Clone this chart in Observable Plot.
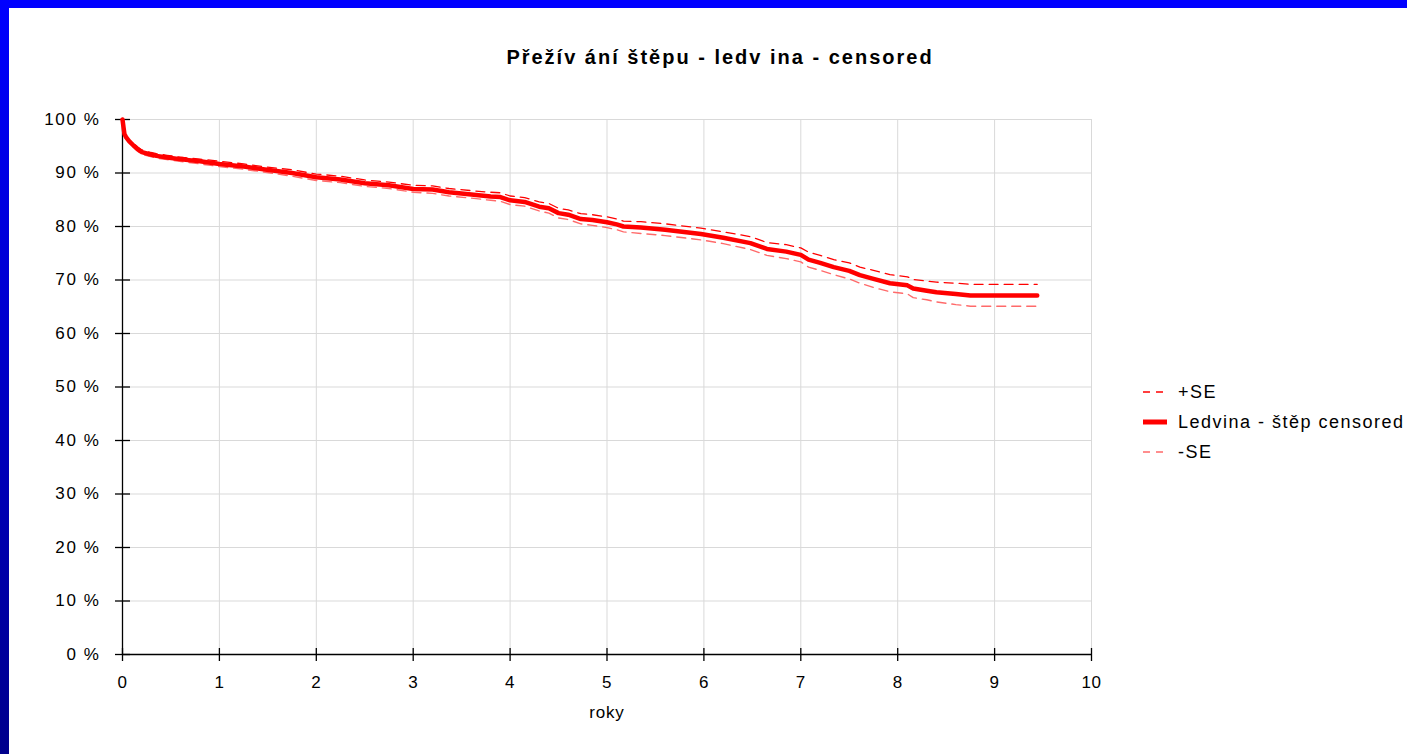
<!DOCTYPE html>
<html>
<head>
<meta charset="utf-8">
<script src="https://cdn.jsdelivr.net/npm/d3@7"></script>
<script src="https://cdn.jsdelivr.net/npm/@observablehq/plot@0.6"></script>
<style>
  html, body { margin: 0; padding: 0; width: 1407px; height: 754px; overflow: hidden; background: #fff; font-family: "Liberation Sans", Arial, sans-serif; }
  #topbar { position: absolute; left: 0; top: 0; width: 1407px; height: 8px; background: #0000ff; }
  #leftbar { position: absolute; left: 0; top: 0; width: 9px; height: 754px; background: linear-gradient(#0000ff, #00008c); }
  #chart { position: absolute; left: 9px; top: 8px; }
  #title { position: absolute; left: 0; width: 1440px; top: 46px; text-align: center; font-weight: bold; font-size: 20px; letter-spacing: 2px; color: #000; }
  #xlabel { position: absolute; left: 560px; width: 94px; top: 703px; text-align: center; font-size: 17px; letter-spacing: 0.8px; color: #000; }
  .leg { position: absolute; left: 1143px; height: 20px; }
  .leg svg { position: absolute; left: 0; top: 0; }
  .leg span { position: absolute; left: 35px; top: 0; white-space: nowrap; font-size: 18px; letter-spacing: 1.5px; line-height: 20px; color: #000; }
  #chart g[aria-label="y-axis tick label"] text { letter-spacing: 1.6px; }
  #chart g[aria-label="x-axis tick label"] text { letter-spacing: 0.5px; }
</style>
</head>
<body>
<div id="topbar"></div>
<div id="leftbar"></div>
<div id="title">Přežív ání štěpu - ledv ina - censored</div>
<div id="chart"></div>
<div id="xlabel">roky</div>
<div id="legend"></div>
<script>
// Data (years, survival %)
const years = [0, 0.01, 0.02, 0.04, 0.07, 0.11, 0.16, 0.2, 0.28, 0.35, 0.46, 0.63, 0.8, 1.0, 1.25, 1.49, 1.75, 2.0, 2.25, 2.5, 2.75, 3.0, 3.2, 3.37, 3.6, 3.8, 3.9, 4.0, 4.15, 4.3, 4.4, 4.5, 4.6, 4.73, 4.85, 5.0, 5.1, 5.17, 5.35, 5.6, 5.97, 6.2, 6.48, 6.65, 6.85, 7.0, 7.08, 7.2, 7.34, 7.5, 7.61, 7.75, 7.92, 8.1, 8.16, 8.3, 8.4, 8.6, 8.75, 9.44];
const survival = [100, 98.6, 97.3, 96.6, 95.9, 95.2, 94.4, 93.9, 93.5, 93.2, 92.9, 92.5, 92.2, 91.7, 91.2, 90.6, 90.0, 89.2, 88.8, 88.1, 87.7, 87.0, 86.9, 86.4, 86.0, 85.6, 85.5, 84.9, 84.6, 83.7, 83.4, 82.5, 82.2, 81.4, 81.2, 80.8, 80.4, 80.0, 79.8, 79.4, 78.6, 77.9, 76.9, 75.8, 75.3, 74.7, 73.8, 73.2, 72.4, 71.7, 70.9, 70.2, 69.4, 69.0, 68.4, 68.0, 67.7, 67.4, 67.1, 67.1];
const upperSE = [100, 98.8, 97.6, 96.9, 96.2, 95.6, 94.8, 94.3, 93.9, 93.6, 93.3, 92.9, 92.6, 92.2, 91.7, 91.1, 90.6, 89.8, 89.4, 88.7, 88.3, 87.7, 87.6, 87.1, 86.7, 86.4, 86.3, 85.7, 85.4, 84.6, 84.3, 83.4, 83.1, 82.4, 82.2, 81.8, 81.4, 81.0, 80.9, 80.5, 79.7, 79.0, 78.1, 77.0, 76.6, 76.0, 75.2, 74.6, 73.8, 73.2, 72.4, 71.8, 71.0, 70.6, 70.1, 69.8, 69.6, 69.4, 69.2, 69.2];
const lowerSE = [100, 98.4, 97.0, 96.3, 95.6, 94.8, 94.0, 93.5, 93.1, 92.8, 92.5, 92.1, 91.7, 91.2, 90.7, 90.1, 89.4, 88.6, 88.2, 87.5, 87.1, 86.4, 86.2, 85.7, 85.3, 84.9, 84.7, 84.1, 83.8, 82.9, 82.5, 81.6, 81.3, 80.5, 80.2, 79.8, 79.4, 79.0, 78.7, 78.3, 77.5, 76.8, 75.7, 74.6, 74.0, 73.4, 72.4, 71.8, 71.0, 70.2, 69.4, 68.6, 67.8, 67.4, 66.7, 66.3, 65.9, 65.4, 65.1, 65.1];

const xTicks = [0, 1, 2, 3, 4, 5, 6, 7, 8, 9, 10];
const yTicks = [0, 10, 20, 30, 40, 50, 60, 70, 80, 90, 100];
const seriesNames = ["+SE", "Ledvina - štěp censored", "-SE"];

const mainData = years.map((t, i) => ({t, v: survival[i]}));
const upData = years.map((t, i) => ({t, v: upperSE[i]}));
const loData = years.map((t, i) => ({t, v: lowerSE[i]}));

const chart = Plot.plot({
  width: 1398,
  height: 746,
  marginLeft: 113,
  marginTop: 111,
  marginRight: 316,
  marginBottom: 100,
  style: {fontFamily: "'Liberation Sans', Arial, sans-serif", fontSize: "17px", color: "#000", background: "transparent", overflow: "visible"},
  x: {domain: [0, 10]},
  y: {domain: [0, 100]},
  marks: [
    Plot.gridX(xTicks, {stroke: "#d9d9d9", strokeOpacity: 1, strokeWidth: 1}),
    Plot.gridY(yTicks, {stroke: "#d9d9d9", strokeOpacity: 1, strokeWidth: 1}),
    Plot.ruleX([0], {stroke: "#000", strokeWidth: 1.3}),
    Plot.ruleY([0], {stroke: "#000", strokeWidth: 1.3}),
    Plot.axisY(yTicks, {tickSize: 15, dx: 8, tickFormat: () => "", label: null, stroke: "#000", strokeWidth: 1.3}),
    Plot.axisY(yTicks, {tickSize: 0, tickPadding: 22, tickFormat: d => d + " %", label: null, fontSize: 17}),
    Plot.axisX(xTicks, {tickSize: 13, dy: -6, tickFormat: () => "", label: null, stroke: "#000", strokeWidth: 1.3}),
    Plot.axisX(xTicks, {tickSize: 0, tickPadding: 21, tickFormat: d => String(d), label: null, fontSize: 17}),
    Plot.line(loData, {x: "t", y: "v", stroke: "#ff6a6a", strokeWidth: 1.4, strokeDasharray: "9,6"}),
    Plot.line(upData, {x: "t", y: "v", stroke: "#ff0000", strokeWidth: 1.3, strokeDasharray: "9,6"}),
    Plot.line(mainData, {x: "t", y: "v", stroke: "#ff0000", strokeWidth: 4.5})
  ]
});
document.getElementById("chart").appendChild(chart);

// Legend
const legendStyles = [
  {stroke: "#ff0000", width: 1.3, dash: "7,6"},
  {stroke: "#ff0000", width: 5, dash: null},
  {stroke: "#ff6a6a", width: 1.5, dash: "7,6"}
];
const legendTops = [382, 412, 442];
const legend = document.getElementById("legend");
seriesNames.forEach((name, i) => {
  const s = legendStyles[i];
  const row = document.createElement("div");
  row.className = "leg";
  row.style.top = legendTops[i] + "px";
  const svg = d3.create("svg").attr("width", 26).attr("height", 20);
  svg.append("line").attr("x1", 0).attr("x2", 24).attr("y1", 10).attr("y2", 10)
    .attr("stroke", s.stroke).attr("stroke-width", s.width)
    .attr("stroke-dasharray", s.dash);
  row.appendChild(svg.node());
  const span = document.createElement("span");
  span.textContent = name;
  row.appendChild(span);
  legend.appendChild(row);
});
</script>
</body>
</html>
